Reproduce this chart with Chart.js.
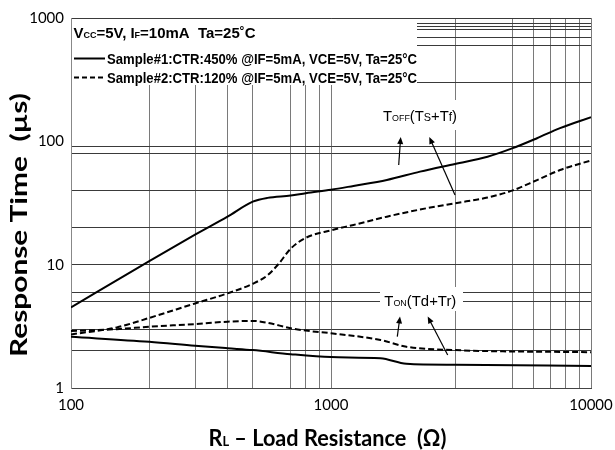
<!DOCTYPE html>
<html>
<head>
<meta charset="utf-8">
<script src="https://cdn.jsdelivr.net/npm/chart.js@4.4.1/dist/chart.umd.min.js"></script>
<style>
html,body{margin:0;padding:0;background:#fff}
</style>
</head>
<body>
<canvas id="myChart" width="615" height="450"></canvas>
<script>
// load resistance (ohm) and response time (us)
var toffR1 = [100, 200, 300, 400, 500, 570, 700, 800, 1000, 1220, 1640, 2200, 3000, 4000, 5000, 6200, 7600, 10000]
var toffT1 = [4.5, 10.7, 17.5, 24.5, 32.4, 34.8, 36.3, 38, 40.5, 43.5, 48.6, 56.8, 65.6, 75, 88, 106, 128, 157]

var toffR2 = [100, 150, 200, 300, 400, 500, 570, 630, 700, 800, 1000, 1220, 1640, 2200, 3000, 4000, 5000, 6200, 7600, 10000]
var toffT2 = [2.72, 3.1, 3.7, 4.85, 5.85, 7.0, 8.2, 10.2, 13.5, 16.5, 19, 21, 24.5, 28, 31.5, 35, 40, 48.5, 58.5, 70]

var tonR1 = [100, 200, 300, 400, 500, 700, 1000, 1550, 1950, 3000, 10000]
var tonT1 = [2.6, 2.37, 2.2, 2.1, 2.03, 1.88, 1.78, 1.74, 1.57, 1.54, 1.51]

var tonR2 = [100, 150, 200, 300, 400, 500, 570, 700, 800, 1000, 1550, 1950, 3000, 10000]
var tonT2 = [2.9, 3.0, 3.14, 3.3, 3.45, 3.5, 3.38, 3.05, 2.92, 2.78, 2.45, 2.16, 2.03, 1.95]

// grid lines as printed on the original sheet (not a regular log grid)
var xGrid = [100, 200, 300, 400, 500, 700, 800, 900, 1000, 3000, 5000, 6000, 7000, 8000, 9000, 10000]
var xLabels = [100, 1000, 10000]
var yGrid = [1, 2, 3, 5, 6, 10, 20, 40, 80, 90, 100, 300, 600, 700, 800, 850, 900, 1000]
var yLabels = [1, 10, 100, 1000]

function pts(xs, ys){
    var out = []
    for (var i = 0; i < xs.length; i++) out.push({x: xs[i], y: ys[i]})
    return out
}

// draws mixed size text (for subscripts), squeezed to a given width
function richText(ctx, segs, x, y, width, family){
    var total = 0
    segs.forEach(function(s){
        ctx.font = s[2] + ' ' + s[1] + 'px ' + family
        total += ctx.measureText(s[0]).width
    })
    var k = width ? width / total : 1
    ctx.save()
    ctx.translate(x, y)
    ctx.scale(k, 1)
    ctx.fillStyle = '#000'
    ctx.textBaseline = 'alphabetic'
    ctx.textAlign = 'left'
    var cx = 0
    segs.forEach(function(s){
        ctx.font = s[2] + ' ' + s[1] + 'px ' + family
        ctx.fillText(s[0], cx, 0)
        cx += ctx.measureText(s[0]).width
    })
    ctx.restore()
}

function arrow(ctx, x1, y1, x2, y2){
    var a = Math.atan2(y2 - y1, x2 - x1)
    ctx.save()
    ctx.strokeStyle = '#000'
    ctx.fillStyle = '#000'
    ctx.lineWidth = 1.2
    ctx.beginPath()
    ctx.moveTo(x1, y1)
    ctx.lineTo(x2 - 5 * Math.cos(a), y2 - 5 * Math.sin(a))
    ctx.stroke()
    ctx.beginPath()
    ctx.moveTo(x2, y2)
    ctx.lineTo(x2 - 7 * Math.cos(a) + 3 * Math.sin(a), y2 - 7 * Math.sin(a) - 3 * Math.cos(a))
    ctx.lineTo(x2 - 7 * Math.cos(a) - 3 * Math.sin(a), y2 - 7 * Math.sin(a) + 3 * Math.cos(a))
    ctx.closePath()
    ctx.fill()
    ctx.restore()
}

var sheetText = {
    id: 'sheetText',
    afterDatasetsDraw: function(chart){
        var ctx = chart.ctx
        var area = chart.chartArea
        var arial = '"Liberation Sans", Arial, sans-serif'
        ctx.save()
        // condition box in the top left corner
        ctx.fillStyle = '#fff'
        ctx.fillRect(area.left + 1, area.top + 1, 417 - area.left - 1, 85 - area.top - 1)
        ctx.fillRect(378, 100, 83, 30)
        ctx.fillRect(380, 287, 83, 24)

        richText(ctx, [['V', 15, 'bold'], ['CC', 9, 'bold'], ['=5V, I', 15, 'bold'], ['F', 9, 'bold'], ['=10mA  Ta=25˚C', 15, 'bold']], 73.5, 37.5, 182, arial)

        ctx.strokeStyle = '#000'
        ctx.lineWidth = 2
        ctx.beginPath(); ctx.moveTo(74, 58.5); ctx.lineTo(105, 58.5); ctx.stroke()
        richText(ctx, [['Sample#1:CTR:450% @IF=5mA, VCE=5V, Ta=25°C', 14, 'bold']], 107, 63.5, 310, arial)

        ctx.setLineDash([5, 3])
        ctx.beginPath(); ctx.moveTo(74, 77.5); ctx.lineTo(105, 77.5); ctx.stroke()
        ctx.setLineDash([])
        richText(ctx, [['Sample#2:CTR:120% @IF=5mA, VCE=5V, Ta=25°C', 14, 'bold']], 107, 82.5, 310, arial)

        // curve labels with arrows
        richText(ctx, [['T', 15, 'normal'], ['OFF', 9, 'normal'], ['(T', 15, 'normal'], ['S', 11, 'normal'], ['+T', 15, 'normal'], ['f', 12, 'normal'], [')', 15, 'normal']], 383, 121, 74, arial)
        arrow(ctx, 398.7, 165, 400.7, 137)
        arrow(ctx, 455, 195, 429.3, 137)

        richText(ctx, [['T', 15, 'normal'], ['ON', 9, 'normal'], ['(Td+Tr)', 15, 'normal']], 384.3, 306, 72, arial)
        arrow(ctx, 397.3, 336.7, 400, 316.5)
        arrow(ctx, 447.7, 355, 427.7, 316.5)

        // axis titles
        richText(ctx, [['R', 22, 'bold'], ['L', 13, 'bold'], [' \u2013 Load Resistance  (\u03A9)', 22, 'bold']], 208.5, 445.5, 238, 'Lato, sans-serif')
        ctx.save()
        ctx.translate(27, 357)
        ctx.rotate(-Math.PI / 2)
        richText(ctx, [['Response Time  (\u00B5s)', 22, 'bold']], 0, 0, 264, 'Lato, sans-serif')
        ctx.restore()
        ctx.restore()
    }
}

var myChart = document.getElementById('myChart').getContext('2d')
var chart = new Chart(myChart, {
    type: 'line',
    data: {
        datasets: [
            {label: 'Sample#1 Toff', data: pts(toffR1, toffT1), borderColor: '#000', borderWidth: 2, pointRadius: 0, cubicInterpolationMode: 'monotone'},
            {label: 'Sample#2 Toff', data: pts(toffR2, toffT2), borderColor: '#000', borderWidth: 2, borderDash: [6, 3], pointRadius: 0, cubicInterpolationMode: 'monotone'},
            {label: 'Sample#1 Ton', data: pts(tonR1, tonT1), borderColor: '#000', borderWidth: 2, pointRadius: 0, cubicInterpolationMode: 'monotone'},
            {label: 'Sample#2 Ton', data: pts(tonR2, tonT2), borderColor: '#000', borderWidth: 2, borderDash: [6, 3], pointRadius: 0, cubicInterpolationMode: 'monotone'}
        ]
    },
    options: {
        responsive: false,
        animation: false,
        layout: {padding: {left: 0, right: 24, top: 18, bottom: 0}},
        plugins: {legend: {display: false}, tooltip: {enabled: false}},
        scales: {
            x: {
                type: 'logarithmic',
                min: 100,
                max: 10000,
                afterBuildTicks: function(s){ s.ticks = xGrid.map(function(v){ return {value: v} }) },
                afterFit: function(s){ s.height = 62; s.paddingLeft = 0; s.paddingRight = 0 },
                grid: {color: '#7a7a7a', lineWidth: 1, drawTicks: false},
                border: {color: '#444'},
                ticks: {
                    autoSkip: false, maxRotation: 0, padding: 8, color: '#000',
                    font: {family: 'Lato', size: 15},
                    callback: function(v){ return xLabels.indexOf(v) >= 0 ? String(v) : '' }
                }
            },
            y: {
                type: 'logarithmic',
                min: 1,
                max: 1000,
                afterBuildTicks: function(s){ s.ticks = yGrid.map(function(v){ return {value: v} }) },
                afterFit: function(s){ s.width = 71; s.paddingTop = 0; s.paddingBottom = 0 },
                grid: {
                    color: function(c){ return c.tick && c.tick.value === 100 ? 'rgba(0,0,0,0)' : '#3a3a3a' },
                    lineWidth: 1, drawTicks: false
                },
                border: {color: '#888'},
                ticks: {
                    autoSkip: false, padding: 7, color: '#000',
                    font: {family: 'Lato', size: 15},
                    callback: function(v){ return yLabels.indexOf(v) >= 0 ? String(v) : '' }
                }
            }
        }
    },
    plugins: [sheetText]
})
</script>
</body>
</html>
